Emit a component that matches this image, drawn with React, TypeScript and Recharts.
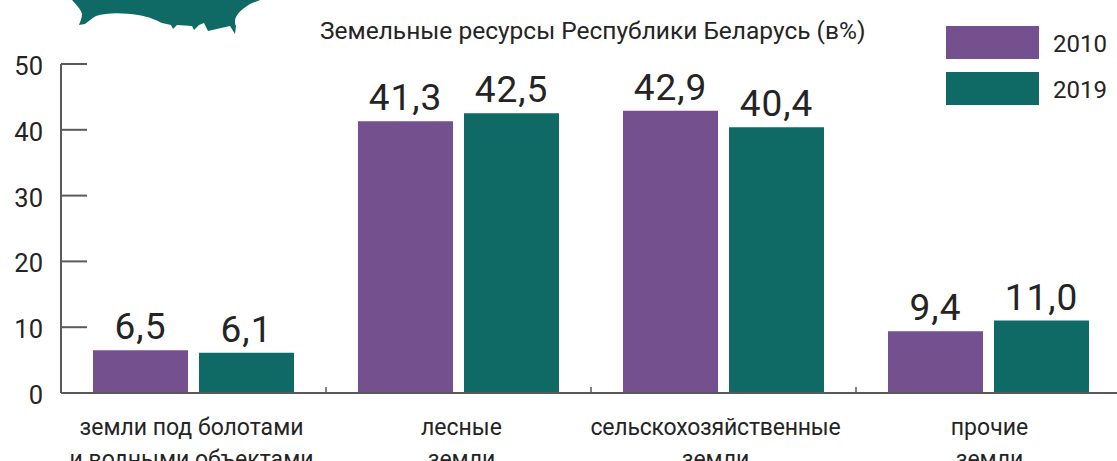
import React from "react";
import { BarChart, Bar, XAxis, YAxis, LabelList, Customized } from "recharts";

const categories = [
  ["земли под болотами", "и водными объектами"],
  ["лесные", "земли"],
  ["сельскохозяйственные", "земли"],
  ["прочие", "земли"],
];
const values2010 = [6.5, 41.3, 42.9, 9.4];
const values2019 = [6.1, 42.5, 40.4, 11.0];
const yTicks = [0, 10, 20, 30, 40, 50];
const seriesNames = ["2010", "2019"];

const PURPLE = "#74508f";
const TEAL = "#0f6a66";
const AXIS = "#5a5a5a";
const INK = "#242424";
const FONT = "Roboto, sans-serif";

const CHART_WIDTH = 1130;
const CHART_HEIGHT = 461;
const MARGIN = { top: 64, right: 9, bottom: 0, left: 0 };
const Y_AXIS_WIDTH = 61;
const X_AXIS_HEIGHT = 68;
const STEP = (CHART_WIDTH - MARGIN.right - Y_AXIS_WIDTH) / categories.length;
// Captions sit slightly off their group centres in this layout.
const CAPTION_SHIFT = [-2, 3, -8, 1];

const rows = categories.map((lines, i) => ({
  name: lines.join(" "),
  lines,
  y2010: values2010[i],
  y2019: values2019[i],
}));

const comma = (v: number) => v.toFixed(1).replace(".", ",");

// Ticks run inward from the axis line, with the number to the left of it.
function ValueTick({ y, payload }: any) {
  return (
    <g>
      <line x1={Y_AXIS_WIDTH} x2={Y_AXIS_WIDTH + 26} y1={y} y2={y} stroke={AXIS} strokeWidth={2} />
      <text x={Y_AXIS_WIDTH - 18} y={y + 11} textAnchor="end" fontFamily={FONT} fontSize={25.5} fill={INK}>
        {payload.value}
      </text>
    </g>
  );
}

// Two-line category caption plus the small separator between groups.
function CategoryTick({ x, index }: any) {
  const lines = categories[index];
  const axisY = CHART_HEIGHT - X_AXIS_HEIGHT;
  const edge = x + STEP / 2;
  return (
    <g>
      {index < categories.length - 1 && (
        <line x1={edge} x2={edge} y1={axisY} y2={axisY - 6} stroke={AXIS} strokeWidth={1.5} />
      )}
      {lines.map((line: string, i: number) => (
        <text
          key={line}
          x={x + CAPTION_SHIFT[index]}
          y={axisY + 42 + i * 32}
          textAnchor="middle"
          fontFamily={FONT}
          fontSize={23}
          letterSpacing={line.length > 19 ? -0.2 : 0}
          fill={INK}
        >
          {line}
        </text>
      ))}
    </g>
  );
}

function YearLegend() {
  const colors = [PURPLE, TEAL];
  return (
    <g>
      {seriesNames.map((name, i) => (
        <g key={name}>
          <rect x={946} y={26 + i * 46} width={93} height={33} fill={colors[i]} />
          <text x={1053} y={52 + i * 46} fontFamily={FONT} fontSize={24} fill={INK}>
            {name}
          </text>
        </g>
      ))}
    </g>
  );
}

// Southern edge of the country silhouette, cut off by the top of the frame.
function MapFragment() {
  return (
    <path
      fill={TEAL}
      d="M72,0 C76,5 81,9 82,14 C82,18 80,22 79,25 L85,24 C89,21 92,18 96,16 C108,12 125,13 138,15 C150,17 156,20 162,23 L171,25 L173,29 L177,25 L192,26 L194,30 L199,25 L204,23 L208,31 L221,28 L230,26 L235,34 L236,26 C232,18 240,10 250,4 L260,0 Z"
    />
  );
}

function Title() {
  return (
    <text x={320} y={39} fontFamily={FONT} fontSize={24.5} fill={INK}>
      Земельные ресурсы Республики Беларусь (в%)
    </text>
  );
}

export default function App() {
  return (
    <div style={{ position: "fixed", left: 0, top: 0, width: 1117, height: 461, overflow: "hidden", background: "#fff" }}>
      <BarChart
        width={CHART_WIDTH}
        height={CHART_HEIGHT}
        data={rows}
        margin={MARGIN}
        barSize={95}
        barGap={11}
      >
        <Customized component={MapFragment} />
        <Customized component={Title} />
        <Customized component={YearLegend} />
        <XAxis
          dataKey="name"
          interval={0}
          height={X_AXIS_HEIGHT}
          stroke={AXIS}
          axisLine={{ stroke: AXIS, strokeWidth: 2 }}
          tickLine={false}
          tick={<CategoryTick />}
        />
        <YAxis
          width={Y_AXIS_WIDTH}
          domain={[0, 50]}
          ticks={yTicks}
          axisLine={{ stroke: AXIS, strokeWidth: 2 }}
          tickLine={false}
          tick={<ValueTick />}
        />
        <Bar dataKey="y2010" name={seriesNames[0]} fill={PURPLE} isAnimationActive={false}>
          <LabelList dataKey="y2010" position="top" offset={11} formatter={comma} fontFamily={FONT} fontSize={37} letterSpacing={1} fill={INK} />
        </Bar>
        <Bar dataKey="y2019" name={seriesNames[1]} fill={TEAL} isAnimationActive={false}>
          <LabelList dataKey="y2019" position="top" offset={11} formatter={comma} fontFamily={FONT} fontSize={37} letterSpacing={1} fill={INK} />
        </Bar>
      </BarChart>
    </div>
  );
}
